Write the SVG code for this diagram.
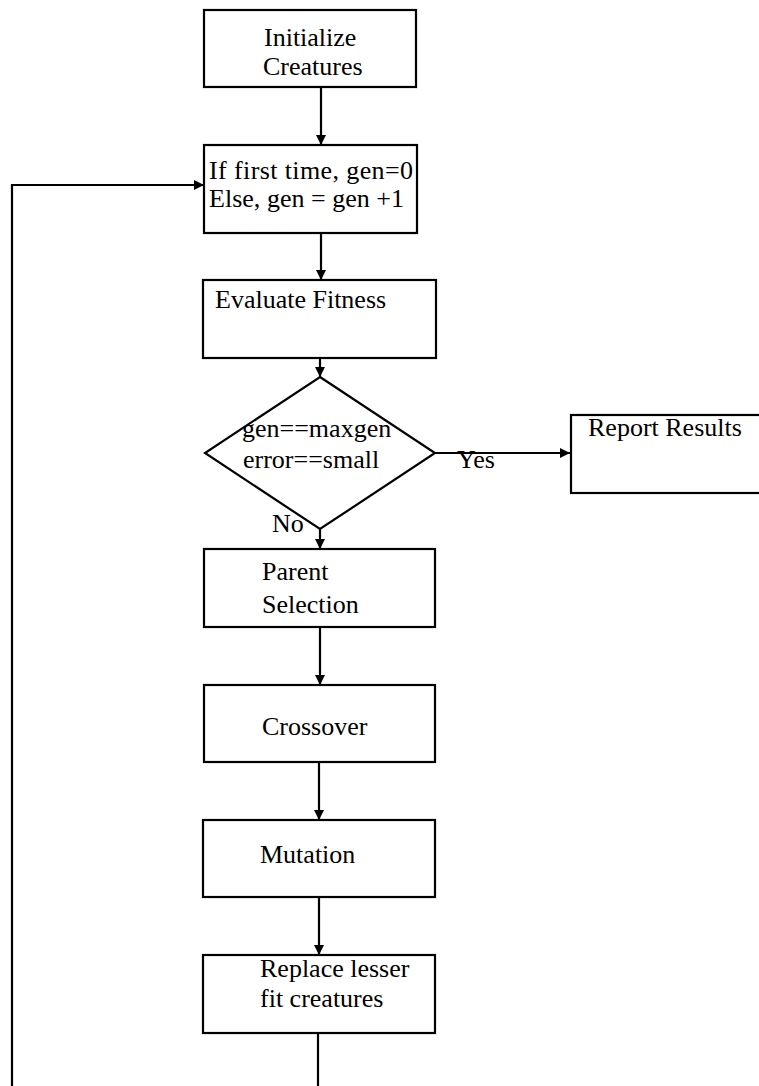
<svg xmlns="http://www.w3.org/2000/svg" width="759" height="1086" viewBox="0 0 759 1086">
<style>
.box{fill:#fff;stroke:#000;stroke-width:2.2}
.t{font-family:"Liberation Serif","Times New Roman",serif;font-size:26px;fill:#000}
.c{fill:none;stroke:#000;stroke-width:2.2}
</style>
<defs>
<marker id="ah" viewBox="0 0 10 10" refX="10" refY="5" markerWidth="10" markerHeight="10" markerUnits="userSpaceOnUse" orient="auto">
<path d="M0,0 L10,5 L0,10 Z" fill="#000"/>
</marker>
</defs>
<rect width="759" height="1086" fill="#fff"/>
<g id="connectors">
<line class="c" x1="321" y1="87" x2="321" y2="145" marker-end="url(#ah)"/>
<line class="c" x1="321" y1="233" x2="321" y2="280" marker-end="url(#ah)"/>
<line class="c" x1="320" y1="358" x2="320" y2="377" marker-end="url(#ah)"/>
<line class="c" x1="435" y1="453" x2="570" y2="453" marker-end="url(#ah)"/>
<line class="c" x1="320" y1="529" x2="320" y2="549" marker-end="url(#ah)"/>
<line class="c" x1="320" y1="627" x2="320" y2="685" marker-end="url(#ah)"/>
<line class="c" x1="319" y1="762" x2="319" y2="820" marker-end="url(#ah)"/>
<line class="c" x1="319" y1="897" x2="319" y2="955" marker-end="url(#ah)"/>
<line class="c" x1="318" y1="1033" x2="318" y2="1086"/>
<polyline class="c" points="12,1086 12,185 204,185" marker-end="url(#ah)"/>
<text class="t" x="457" y="468">Yes</text>
<text class="t" x="272" y="532">No</text>
</g>
<g id="init">
<rect class="box" x="204" y="10" width="212" height="77"/>
<text class="t" x="264" y="46">Initialize</text>
<text class="t" x="263" y="75">Creatures</text>
</g>
<g id="gen">
<rect class="box" x="204" y="145" width="213" height="88"/>
<text class="t" x="209" y="179" textLength="204">If first time, gen=0</text>
<text class="t" x="209" y="207" textLength="195">Else, gen = gen +1</text>
</g>
<g id="evaluate">
<rect class="box" x="203" y="280" width="233" height="78"/>
<text class="t" x="215" y="308">Evaluate Fitness</text>
</g>
<g id="decision">
<polygon class="box" points="320,377 435,453 320,529 205,453"/>
<text class="t" x="242" y="437">gen==maxgen</text>
<text class="t" x="243" y="468">error==small</text>
</g>
<g id="report">
<rect class="box" x="571" y="415" width="192" height="78"/>
<text class="t" x="588" y="436">Report Results</text>
</g>
<g id="parent">
<rect class="box" x="204" y="549" width="231" height="78"/>
<text class="t" x="262" y="580">Parent</text>
<text class="t" x="262" y="613">Selection</text>
</g>
<g id="crossover">
<rect class="box" x="204" y="685" width="231" height="77"/>
<text class="t" x="262" y="735">Crossover</text>
</g>
<g id="mutation">
<rect class="box" x="203" y="820" width="232" height="77"/>
<text class="t" x="260" y="863">Mutation</text>
</g>
<g id="replace">
<rect class="box" x="203" y="955" width="232" height="78"/>
<text class="t" x="260" y="977">Replace lesser</text>
<text class="t" x="260" y="1007">fit creatures</text>
</g>
</svg>
